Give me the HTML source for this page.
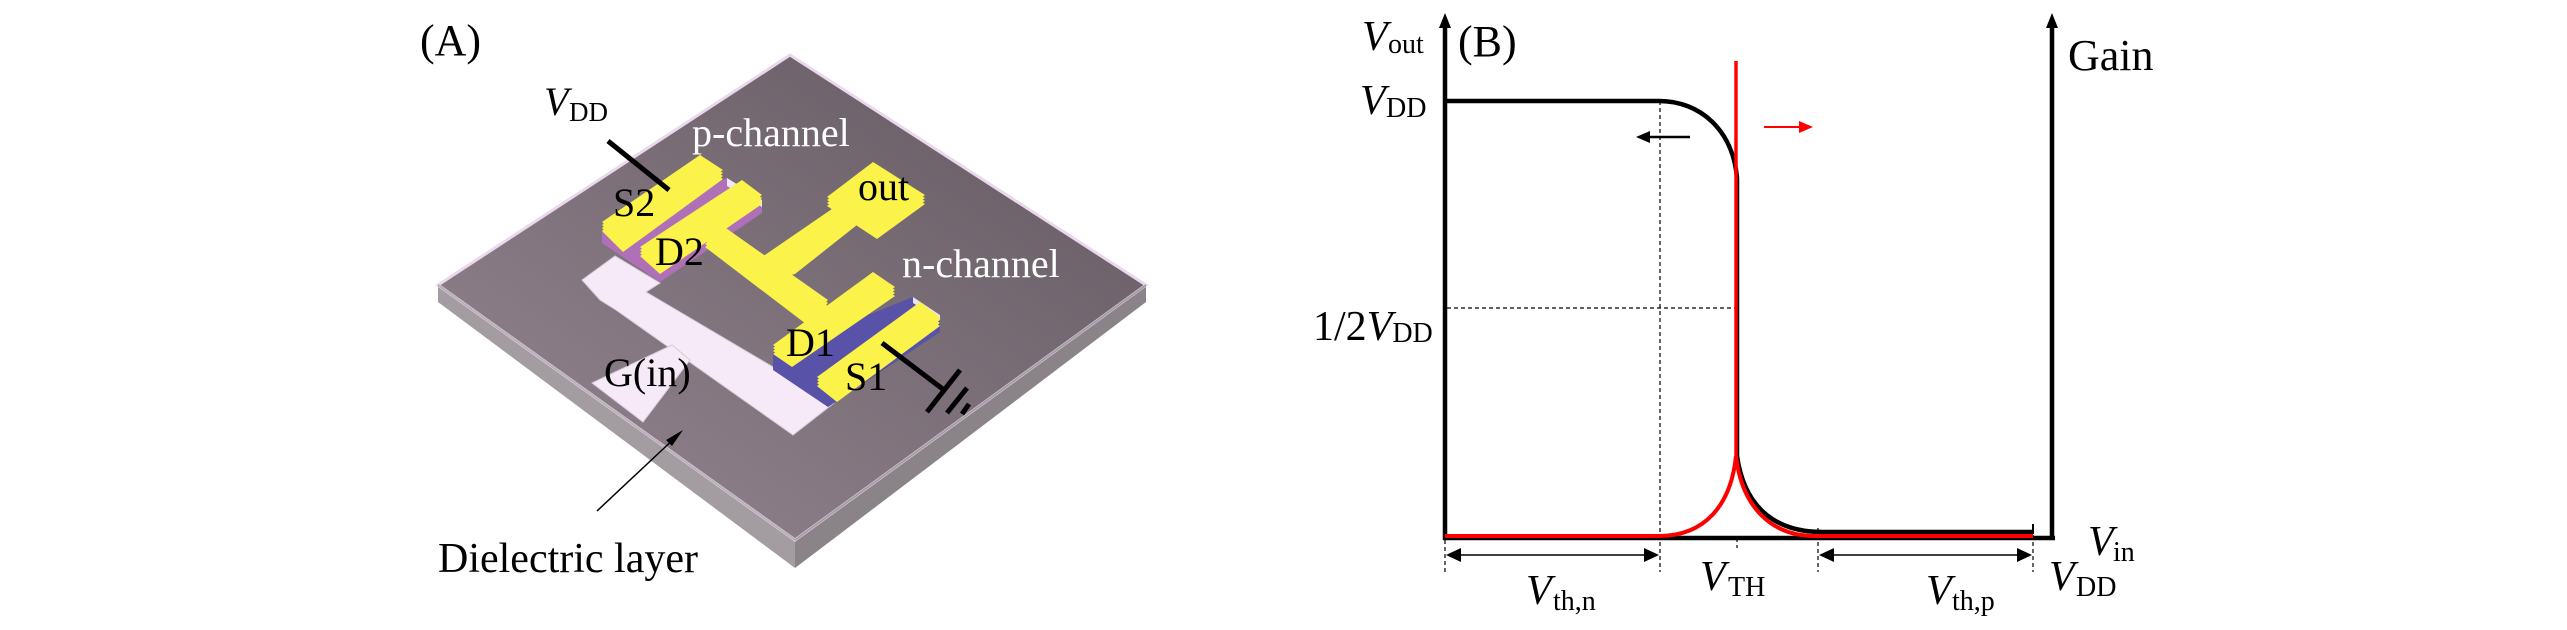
<!DOCTYPE html>
<html><head><meta charset="utf-8"><style>
html,body{margin:0;padding:0;background:#fff;}
svg{display:block;font-family:"Liberation Serif","DejaVu Serif",serif;}
svg text{font-family:"Liberation Serif","DejaVu Serif",serif;}
</style></head><body>
<svg width="2567" height="630" viewBox="0 0 2567 630" xmlns="http://www.w3.org/2000/svg" font-family="Liberation Serif, DejaVu Serif, serif">
<defs>
<linearGradient id="top" x1="0" y1="1" x2="1" y2="0">
<stop offset="0" stop-color="#968892"/><stop offset="1" stop-color="#625760"/>
</linearGradient>
</defs>
<!-- Panel A -->
<text x="420" y="55" font-size="44">(A)</text>
<!-- substrate -->
<polygon points="438,285 795,540 795,568 438,302" fill="#a39ca1"/>
<polygon points="795,540 1146,285 1146,302 795,568" fill="#8a8387"/>
<polygon points="790,55 1146,285 795,540 438,285" fill="url(#top)" stroke="#ecd8ee" stroke-width="3"/>
<line x1="438" y1="285" x2="795" y2="540" stroke="#b8b0b6" stroke-width="2"/>
<line x1="795" y1="540" x2="1146" y2="285" stroke="#a49ca2" stroke-width="2"/>
<!-- gate -->
<g fill="#f6eaf8" stroke="#d8ccd8" stroke-width="1">
<polygon points="582,280 615,256 660,283 646,292 834,403 793,435 616,310 600,300"/>
<polygon points="592,383 672,345 690,360 643,422"/>
</g>
<!-- purple slab -->
<polygon points="602,230 727,178 762,200 762,213 660,282 602,243" fill="#b070b8"/>
<polygon points="727,178 762,200 762,207 727,186" fill="#f2e6f4"/>
<!-- blue slab -->
<polygon points="773,353 913,297 940,315 940,332 828,407 773,370" fill="#5852a8"/>
<polygon points="913,297 940,315 940,320 913,303" fill="#e8e4f4"/>
<!-- yellow electrodes with extrusion -->
<g fill="#d4cc48">
<g transform="translate(0,3)"><use href="#yel"/></g>
<g transform="translate(0,6)"><use href="#yel"/></g>
<g transform="translate(0,9)"><use href="#yel"/></g>
</g>
<g id="yel" fill="#fbf34a">
<polygon points="602,222 700,155 723,170 623,243"/>
<polygon points="640,247 742,180 762,195 660,265"/>
<polygon points="705,238 723,226 828,300 810,318"/>
<polygon points="762,257 845,200 862,212 795,265 783,268"/>
<polygon points="827,197 873,162 925,195 877,230"/>
<polygon points="773,345 873,272 895,287 792,358"/>
<polygon points="817,377 920,302 940,317 837,393"/>
</g>
<!-- labels A -->
<g font-size="40" fill="#000">
<text x="613" y="216">S2</text>
<text x="655" y="265">D2</text>
<text x="858" y="200">out</text>
<text x="786" y="356">D1</text>
<text x="845" y="390">S1</text>
<text x="604" y="386">G(in)</text>
</g>
<g font-size="40" fill="#fff">
<text x="692" y="146">p-channel</text>
<text x="902" y="277">n-channel</text>
</g>
<text x="544" y="115" font-size="40" font-style="italic">V</text>
<text x="569" y="121" font-size="27">DD</text>
<line x1="608" y1="141" x2="669" y2="190" stroke="#000" stroke-width="5"/>
<line x1="882" y1="343" x2="944" y2="390" stroke="#000" stroke-width="5"/>
<line x1="960" y1="370" x2="927" y2="412" stroke="#000" stroke-width="5"/>
<line x1="967" y1="388" x2="947" y2="413" stroke="#000" stroke-width="5"/>
<line x1="969" y1="404" x2="962" y2="414" stroke="#000" stroke-width="5"/>
<line x1="597" y1="511" x2="678" y2="435" stroke="#000" stroke-width="1.5"/>
<polygon points="683,430 672,446 666,440" fill="#000"/>
<text x="438" y="572" font-size="42">Dielectric layer</text>

<!-- Panel B -->
<g stroke="#000" stroke-width="4.5" fill="none">
<line x1="1445" y1="24" x2="1445" y2="540"/>
<line x1="2052" y1="24" x2="2052" y2="540"/>
<line x1="1443" y1="538" x2="2055" y2="538"/>
</g>
<polygon points="1445,13 1439,28 1451,28" fill="#000"/>
<polygon points="2052,13 2046,28 2058,28" fill="#000"/>
<g stroke="#000" stroke-width="1.2" stroke-dasharray="4,3" fill="none">
<line x1="1660" y1="101" x2="1660" y2="572"/>
<line x1="1447" y1="308" x2="1735" y2="308"/>
<line x1="1737" y1="538" x2="1737" y2="548"/>
<line x1="1818" y1="528" x2="1818" y2="572"/>
<line x1="2033" y1="528" x2="2033" y2="572"/>
<line x1="1445" y1="540" x2="1445" y2="572"/>
</g>
<path d="M1445,101 L1659,101 C1700,101 1733,130 1737,178 L1737,456 C1745,512 1780,532 1822,532 L2033,532" stroke="#000" stroke-width="4.5" fill="none"/>
<line x1="2033" y1="524" x2="2033" y2="534" stroke="#000" stroke-width="2"/>
<path d="M1445,536 L1659,536 C1705,536 1731,505 1736,456 M1736,456 C1742,508 1772,536 1815,536 L2033,536" stroke="#f00" stroke-width="4" fill="none"/>
<line x1="1736" y1="61" x2="1736" y2="460" stroke="#f00" stroke-width="3.5"/>
<!-- small arrows -->
<line x1="1690" y1="137" x2="1645" y2="137" stroke="#000" stroke-width="2.5"/>
<polygon points="1636,137 1650,131 1650,143" fill="#000"/>
<line x1="1764" y1="127" x2="1803" y2="127" stroke="#f00" stroke-width="2"/>
<polygon points="1813,127 1799,121 1799,133" fill="#f00"/>
<!-- dimension arrows -->
<g stroke="#000" stroke-width="1.5">
<line x1="1450" y1="555" x2="1655" y2="555"/>
<line x1="1823" y1="555" x2="2028" y2="555"/>
</g>
<g fill="#000">
<polygon points="1446,555 1461,548 1461,562"/>
<polygon points="1659,555 1644,548 1644,562"/>
<polygon points="1819,555 1834,548 1834,562"/>
<polygon points="2032,555 2017,548 2017,562"/>
</g>
<!-- labels B -->
<text x="1458" y="56" font-size="44">(B)</text>
<text x="2068" y="70" font-size="44">Gain</text>
<text x="1362" y="50" font-size="42" font-style="italic">V</text>
<text x="1388" y="53" font-size="28">out</text>
<text x="1360" y="114" font-size="42" font-style="italic">V</text>
<text x="1386" y="117" font-size="28">DD</text>
<text x="1313" y="340" font-size="42">1/2<tspan font-style="italic">V</tspan><tspan font-size="28" dy="2">DD</tspan></text>
<text x="1526" y="604" font-size="42" font-style="italic">V</text>
<text x="1553" y="610" font-size="28">th,n</text>
<text x="1700" y="590" font-size="42" font-style="italic">V</text>
<text x="1728" y="596" font-size="28">TH</text>
<text x="1926" y="604" font-size="42" font-style="italic">V</text>
<text x="1952" y="610" font-size="28">th,p</text>
<text x="2088" y="555" font-size="42" font-style="italic">V</text>
<text x="2113" y="561" font-size="28">in</text>
<text x="2049" y="590" font-size="42" font-style="italic">V</text>
<text x="2076" y="596" font-size="28">DD</text>
</svg>
</body></html>
